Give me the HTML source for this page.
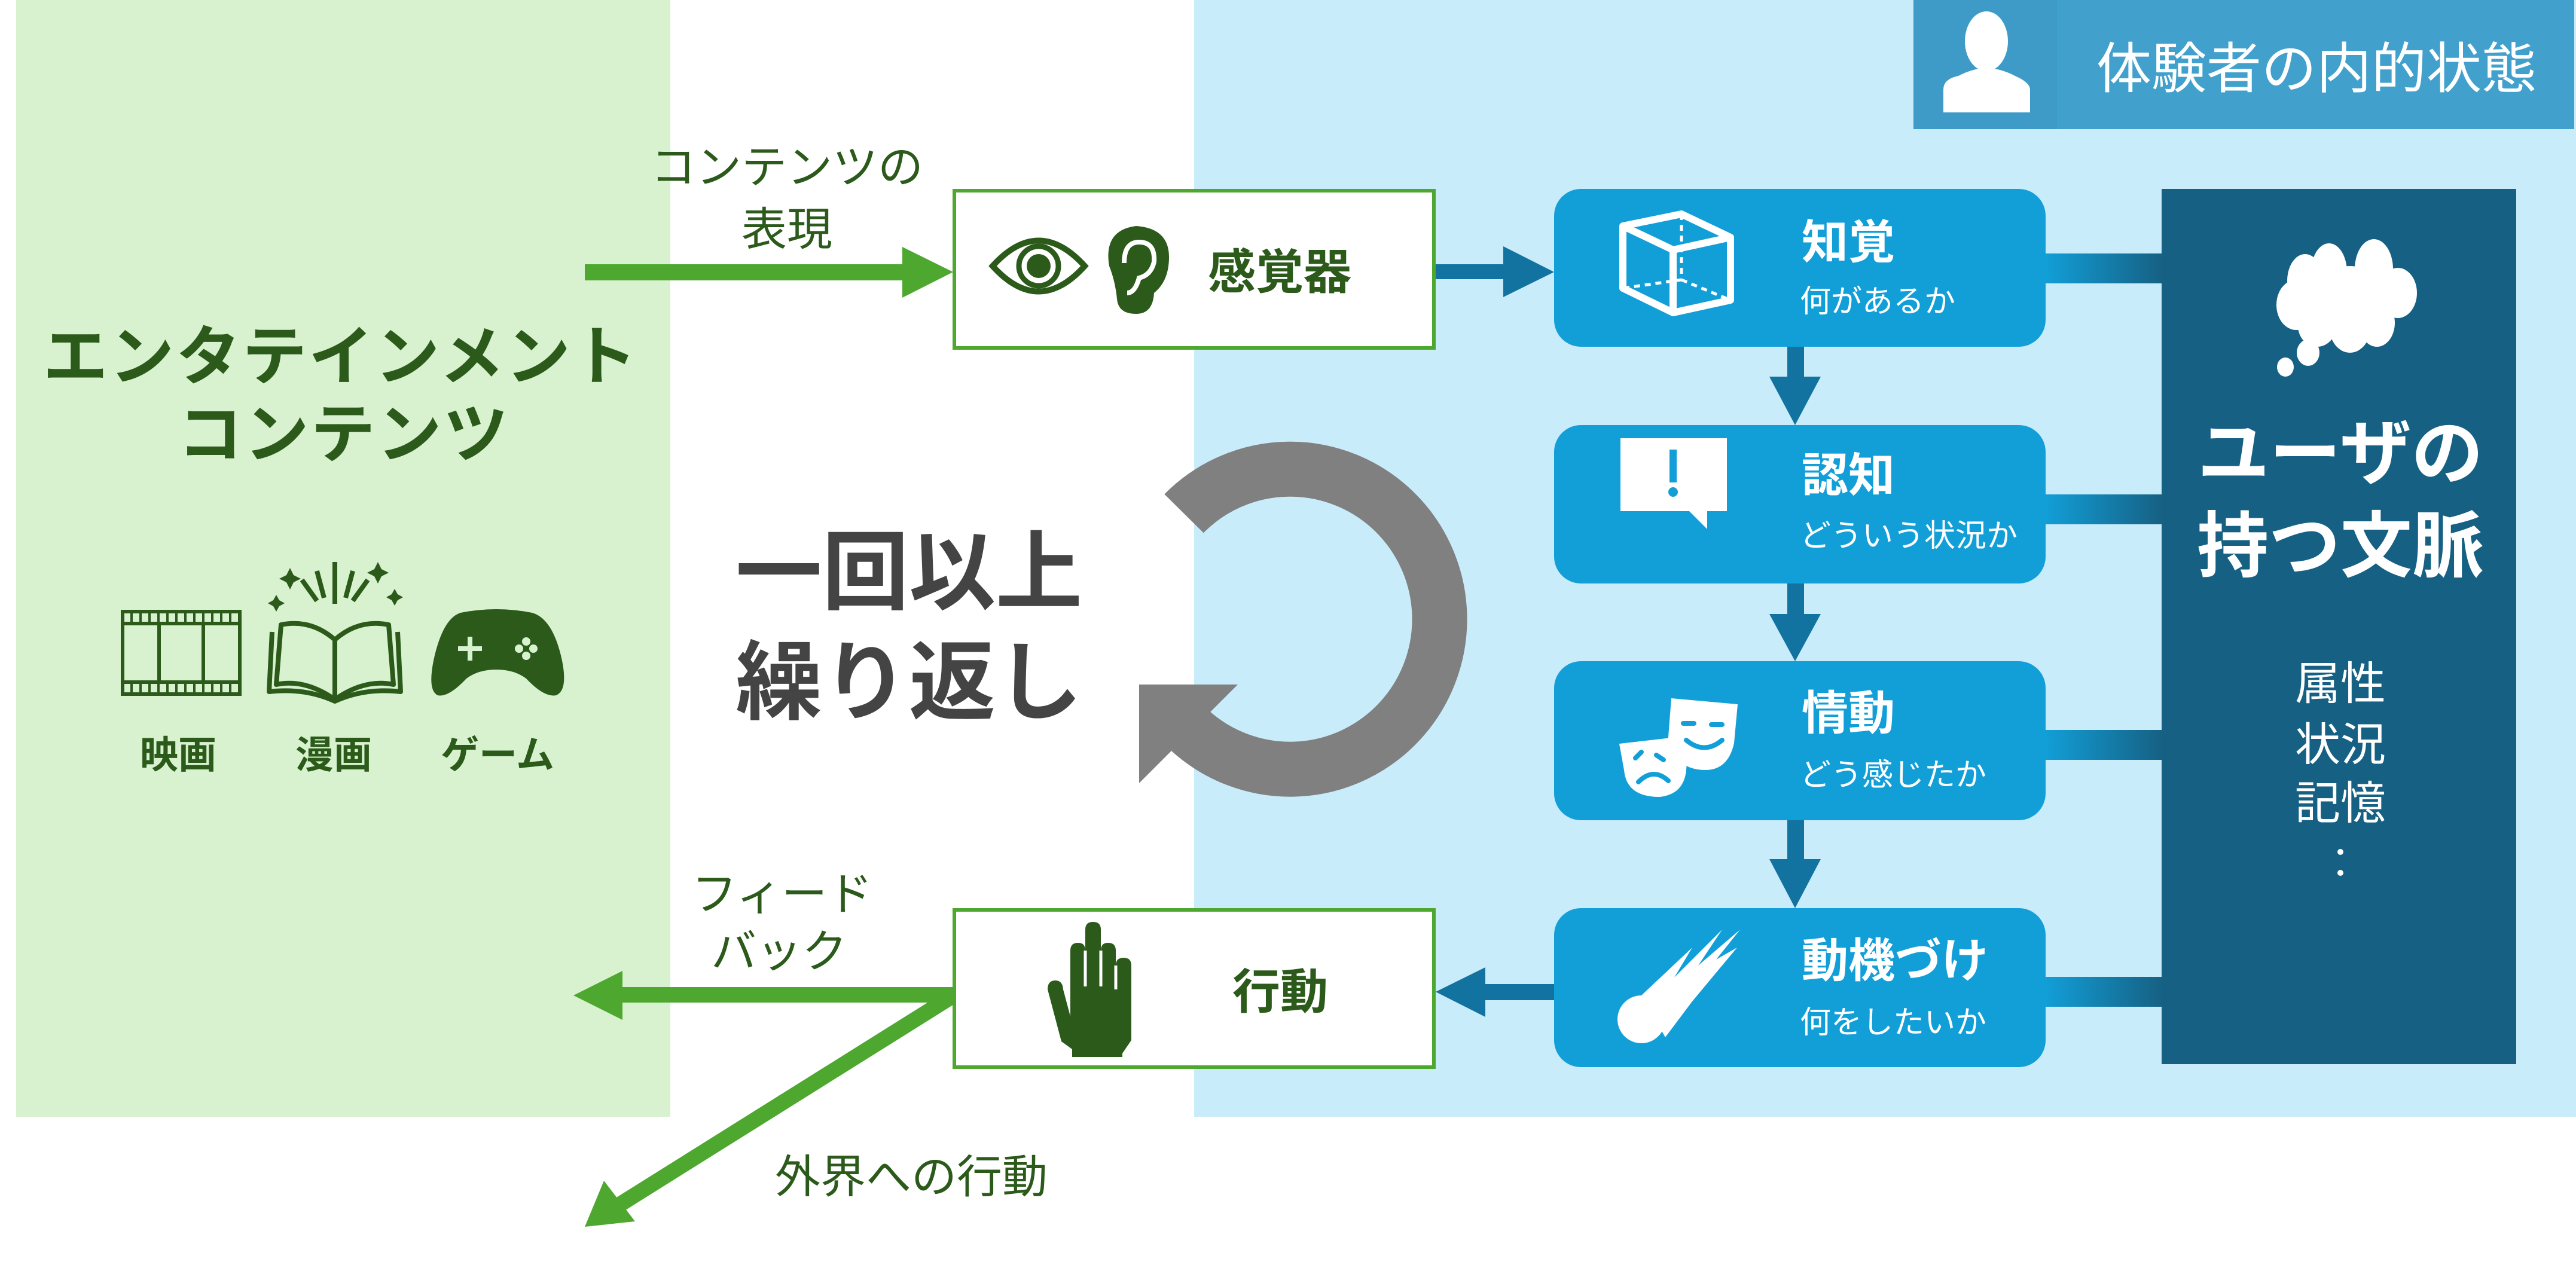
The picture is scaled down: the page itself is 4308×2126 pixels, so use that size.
<!DOCTYPE html>
<html><head><meta charset="utf-8"><style>
html,body{margin:0;padding:0;background:#fff}
svg{display:block}
text{font-family:"Liberation Sans","Noto Sans CJK JP",sans-serif}
</style></head><body>
<svg width="4308" height="2126" viewBox="0 0 4308 2126" xmlns="http://www.w3.org/2000/svg">
<defs>
<linearGradient id="cg" x1="0" x2="1" y1="0" y2="0"><stop offset="0" stop-color="#129fd8"/><stop offset="1" stop-color="#166083"/></linearGradient>
</defs>
<!-- panels -->
<rect x="27" y="0" width="1094" height="1868" fill="#d8f2d0"/>
<rect x="1997" y="0" width="2311" height="1868" fill="#c9ecfb"/>
<rect x="3200" y="0" width="1105" height="216" fill="#41a0cc"/>
<rect x="3200" y="0" width="240" height="216" fill="#3e9bc8"/>
<!-- person icon -->
<ellipse cx="3322" cy="69" rx="36" ry="50" fill="#fff"/>
<path d="M3250 188 L3250 150 Q3250 132 3275 127 Q3300 114 3322 114 Q3345 114 3370 127 Q3395 138 3395 150 L3395 188 Z" fill="#fff"/>
<text x="3506" y="147" font-size="92" fill="#fff">体験者の内的状態</text>

<!-- left title -->
<text x="570" y="634" font-size="108" font-weight="bold" fill="#2b5a1a" text-anchor="middle" letter-spacing="3">エンタテインメント</text>
<text x="575" y="764" font-size="108" font-weight="bold" fill="#2b5a1a" text-anchor="middle" letter-spacing="3">コンテンツ</text>
<g transform="translate(0,-15)">
<!-- film -->
<g fill="none" stroke="#2b5a1a" stroke-width="6">
<rect x="205" y="1038" width="196" height="138"/>
<line x1="205" y1="1058" x2="401" y2="1058"/><line x1="205" y1="1156" x2="401" y2="1156"/>
<line x1="266" y1="1058" x2="266" y2="1156"/><line x1="340" y1="1058" x2="340" y2="1156"/>
</g>
<g stroke="#2b5a1a" stroke-width="4">
<path d="M220 1038v20M235 1038v20M250 1038v20M265 1038v20M280 1038v20M295 1038v20M310 1038v20M325 1038v20M340 1038v20M355 1038v20M370 1038v20M385 1038v20M220 1156v20M235 1156v20M250 1156v20M265 1156v20M280 1156v20M295 1156v20M310 1156v20M325 1156v20M340 1156v20M355 1156v20M370 1156v20M385 1156v20"/>
</g>
<!-- book -->
<g fill="none" stroke="#2b5a1a" stroke-width="8" stroke-linejoin="round">
<path d="M560 1185 Q510 1150 462 1160 L470 1060 Q520 1050 560 1085 Q600 1050 650 1060 L658 1160 Q610 1150 560 1185 Z"/>
<path d="M560 1085 L560 1180"/>
<path d="M455 1072 L450 1172 Q510 1165 560 1188 Q610 1165 670 1172 L665 1072"/>
<path d="M560 955v70M530 970l12 45M590 970l-12 45M505 985l25 35M615 985l-25 35"/>
</g>
<g fill="#2b5a1a"><path d="M485 965l6 12 12 6-12 6-6 12-6-12-12-6 12-6z"/><path d="M632 955l6 12 12 6-12 6-6 12-6-12-12-6 12-6z"/><path d="M462 1010l5 9 9 5-9 5-5 9-5-9-9-5 9-5z"/><path d="M660 1000l5 9 9 5-9 5-5 9-5-9-9-5 9-5z"/></g>
<!-- gamepad -->
<path d="M770 1040 Q830 1028 890 1040 Q925 1050 940 1120 Q950 1170 930 1178 Q910 1182 880 1150 Q860 1135 830 1135 Q800 1135 780 1150 Q750 1182 732 1178 Q715 1170 725 1120 Q740 1050 770 1040 Z" fill="#2b5a1a"/>
<g stroke="#d8f2d0" stroke-width="8"><path d="M786 1080v40M766 1100h40"/></g>
<g fill="#d8f2d0"><circle cx="880" cy="1088" r="7"/><circle cx="880" cy="1112" r="7"/><circle cx="868" cy="1100" r="7"/><circle cx="892" cy="1100" r="7"/></g>
<text x="298" y="1300" font-size="64" font-weight="bold" fill="#2b5a1a" text-anchor="middle">映画</text>
<text x="558" y="1300" font-size="64" font-weight="bold" fill="#2b5a1a" text-anchor="middle">漫画</text>
<text x="832" y="1300" font-size="64" font-weight="bold" fill="#2b5a1a" text-anchor="middle">ゲーム</text>
</g>

<!-- green arrows -->
<text x="1316" y="306" font-size="76" fill="#2b5a1a" text-anchor="middle">コンテンツの</text>
<text x="1316" y="410" font-size="76" fill="#2b5a1a" text-anchor="middle">表現</text>
<rect x="978" y="442" width="535" height="27" fill="#4ea830"/>
<polygon points="1509,413 1594,455 1509,498" fill="#4ea830"/>
<text x="1308" y="1522" font-size="76" fill="#2b5a1a" text-anchor="middle">フィード</text>
<text x="1303" y="1618" font-size="76" fill="#2b5a1a" text-anchor="middle">バック</text>
<rect x="1038" y="1651" width="556" height="26" fill="#4ea830"/>
<polygon points="1041,1624 959,1665 1041,1706" fill="#4ea830"/>
<line x1="1590" y1="1668" x2="1025" y2="2022" stroke="#4ea830" stroke-width="26"/>
<polygon points="978,2052 1010,1975 1062,2043" fill="#4ea830"/>
<text x="1524" y="1995" font-size="76" fill="#2b5a1a" text-anchor="middle">外界への行動</text>

<!-- sensor box -->
<rect x="1596" y="319" width="802" height="263" fill="#fff" stroke="#4ea830" stroke-width="6"/>
<path d="M1660 445 Q1737 360 1814 445 Q1737 530 1660 445 Z" fill="none" stroke="#2b5a1a" stroke-width="10"/>
<circle cx="1737" cy="445" r="33" fill="none" stroke="#2b5a1a" stroke-width="9"/>
<circle cx="1737" cy="445" r="20" fill="#2b5a1a"/>
<path d="M1855 445 Q1845 385 1900 378 Q1955 382 1955 430 Q1955 470 1930 490 Q1928 525 1900 525 Q1870 525 1868 500 Q1865 470 1855 445 Z" fill="#2b5a1a"/>
<path d="M1880 440 Q1880 405 1905 405 Q1932 405 1930 438 Q1925 460 1905 465 Q1898 490 1885 490" fill="none" stroke="#fff" stroke-width="8"/>
<text x="2140" y="483" font-size="80" font-weight="bold" fill="#2b5a1a" text-anchor="middle">感覚器</text>
<!-- action box -->
<rect x="1596" y="1522" width="802" height="263" fill="#fff" stroke="#4ea830" stroke-width="6"/>
<path d="M1752 1655 Q1752 1640 1765 1640 Q1777 1640 1778 1655 L1790 1700 L1790 1590 Q1790 1577 1803 1577 Q1815 1577 1815 1590 L1815 1555 Q1815 1542 1828 1542 Q1841 1542 1841 1555 L1841 1590 Q1841 1577 1853 1577 Q1866 1577 1866 1590 L1866 1615 Q1866 1602 1879 1602 Q1892 1602 1892 1615 L1892 1740 L1877 1762 L1877 1768 L1793 1768 L1793 1755 L1775 1742 Z" fill="#2b5a1a"/>
<g stroke="#fff" stroke-width="5"><path d="M1815 1590v60M1841 1590v60M1866 1615v40"/></g>
<text x="2141" y="1687" font-size="80" font-weight="bold" fill="#2b5a1a" text-anchor="middle">行動</text>

<!-- loop -->
<path d="M1980 859 A250 251 0 1 1 1990 1222" fill="none" stroke="#808080" stroke-width="92"/>
<polygon points="1905,1145 2070,1145 1905,1310" fill="#808080"/>
<text x="1520" y="1008" font-size="145" font-weight="bold" fill="#444" text-anchor="middle">一回以上</text>
<text x="1520" y="1192" font-size="145" font-weight="bold" fill="#444" text-anchor="middle">繰り返し</text>

<!-- blue arrows -->
<rect x="2401" y="442" width="120" height="25" fill="#1272a0"/>
<polygon points="2514,412 2599,455 2514,497" fill="#1272a0"/>
<rect x="2480" y="1646" width="120" height="27" fill="#1272a0"/>
<polygon points="2484,1618 2401,1659 2484,1701" fill="#1272a0"/>
<g fill="#1272a0">
<rect x="2989" y="578" width="28" height="58"/><polygon points="2959,630 3045,630 3002,711"/>
<rect x="2989" y="973" width="28" height="60"/><polygon points="2959,1027 3045,1027 3002,1106"/>
<rect x="2989" y="1366" width="28" height="75"/><polygon points="2959,1437 3045,1437 3002,1519"/>
</g>
<!-- connectors -->
<rect x="3418" y="424" width="200" height="50" fill="url(#cg)"/>
<rect x="3418" y="827" width="200" height="50" fill="url(#cg)"/>
<rect x="3418" y="1221" width="200" height="50" fill="url(#cg)"/>
<rect x="3418" y="1634" width="200" height="50" fill="url(#cg)"/>
<!-- blue boxes -->
<g fill="#129fd8">
<rect x="2599" y="316" width="822" height="264" rx="45"/>
<rect x="2599" y="711" width="822" height="265" rx="45"/>
<rect x="2599" y="1106" width="822" height="266" rx="45"/>
<rect x="2599" y="1519" width="822" height="266" rx="45"/>
</g>
<g fill="#fff">
<text x="3013" y="432" font-size="78" font-weight="bold">知覚</text>
<text x="3010" y="522" font-size="52">何があるか</text>
<text x="3013" y="822" font-size="78" font-weight="bold">認知</text>
<text x="3010" y="914" font-size="52">どういう状況か</text>
<text x="3013" y="1220" font-size="78" font-weight="bold">情動</text>
<text x="3010" y="1314" font-size="52">どう感じたか</text>
<text x="3013" y="1634" font-size="78" font-weight="bold">動機づけ</text>
<text x="3010" y="1728" font-size="52">何をしたいか</text>
</g>
<!-- cube -->
<g fill="none" stroke="#fff" stroke-width="12" stroke-linejoin="round">
<path d="M2714 378 L2812 358 L2894 397 L2894 502 L2798 523 L2714 482 Z"/>
<path d="M2714 378 L2798 418 L2894 397 M2798 418 L2798 523"/>
</g>
<g fill="none" stroke="#fff" stroke-width="5" stroke-dasharray="10 8"><path d="M2812 358 L2812 468 L2714 482 M2812 468 L2894 502"/></g>
<!-- speech bubble -->
<path d="M2710 733 L2888 733 L2888 855 L2855 855 L2855 885 L2825 855 L2710 855 Z" fill="#fff"/>
<rect x="2792" y="752" width="12" height="55" fill="#129fd8"/><circle cx="2798" cy="823" r="8" fill="#129fd8"/>
<!-- masks -->
<g transform="translate(0,-12)">
<path d="M2795 1180 L2906 1190 L2900 1255 Q2890 1300 2852 1300 Q2800 1300 2790 1245 Z" fill="#fff"/>
<path d="M2708 1256 L2795 1246 Q2810 1270 2820 1280 Q2825 1340 2775 1345 Q2720 1345 2716 1300 Z" fill="#fff"/>
<g fill="none" stroke="#129fd8" stroke-width="8" stroke-linecap="round"><path d="M2820 1250 Q2850 1275 2880 1250 M2815 1222h18 M2862 1224h18 M2740 1320 Q2765 1295 2790 1318 M2735 1280l10-10 M2770 1275l12 8"/></g>
</g>
<!-- comet -->
<circle cx="2745" cy="1705" r="40" fill="#fff"/>
<path d="M2745 1665 L2830 1585 L2800 1635 L2880 1555 L2840 1615 L2910 1555 L2870 1605 L2905 1585 L2830 1675 L2785 1735 Z" fill="#fff"/>
<!-- dark panel -->
<rect x="3615" y="316" width="593" height="1464" fill="#166083"/>
<g fill="#fff">
<ellipse cx="3855" cy="470" rx="30" ry="45"/><ellipse cx="3895" cy="455" rx="30" ry="48"/><ellipse cx="3970" cy="450" rx="32" ry="50"/><ellipse cx="4010" cy="490" rx="32" ry="42"/>
<ellipse cx="3840" cy="510" rx="33" ry="42"/><ellipse cx="3875" cy="545" rx="32" ry="35"/><ellipse cx="3930" cy="545" rx="35" ry="45"/><ellipse cx="3975" cy="540" rx="30" ry="40"/><ellipse cx="3930" cy="495" rx="60" ry="50"/>
<ellipse cx="3860" cy="590" rx="19" ry="22"/><ellipse cx="3822" cy="614" rx="14" ry="16"/>
<text x="3914" y="800" font-size="120" text-anchor="middle" font-weight="bold">ユーザの</text>
<text x="3914" y="955" font-size="120" text-anchor="middle" font-weight="bold">持つ文脈</text>
<text x="3914" y="1170" font-size="76" text-anchor="middle">属性</text>
<text x="3914" y="1272" font-size="76" text-anchor="middle">状況</text>
<text x="3914" y="1370" font-size="76" text-anchor="middle">記憶</text>
<circle cx="3914" cy="1425" r="5"/><circle cx="3914" cy="1460" r="5"/>
</g>
</svg>
</body></html>
